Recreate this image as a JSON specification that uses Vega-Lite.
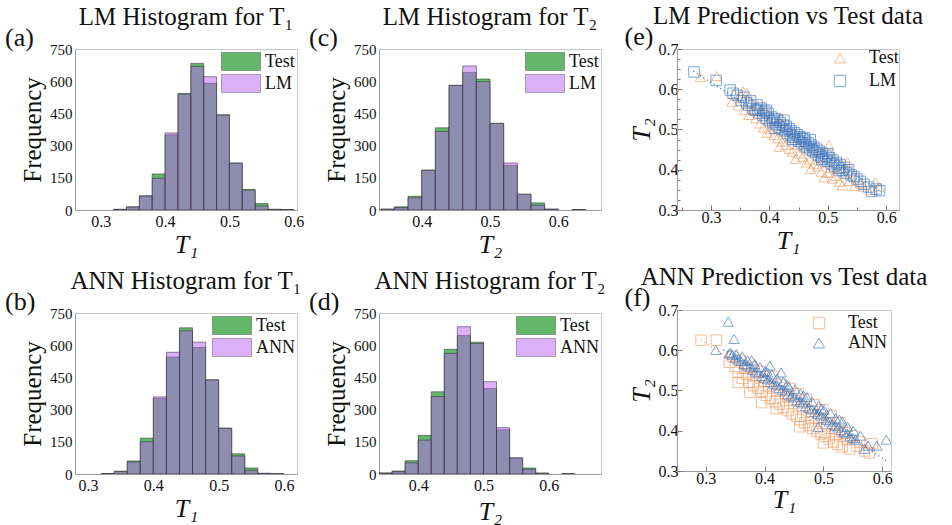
{
"$schema":"https://vega.github.io/schema/vega-lite/v6.json",
"padding":{"left":5,"top":3,"right":0,"bottom":0},
"config":{
  "font":"Liberation Serif",
  "view":{"stroke":"#c8c8c8","strokeWidth":1},
  "axis":{"labelColor":"#111","titleColor":"#111","grid":false,"domainColor":"#999","labelFont":"Liberation Serif","titleFont":"Liberation Serif","titleFontWeight":"normal","labelOverlap":false},
  "axisX":{"labelFont":"Liberation Serif","titleFont":"Liberation Serif"},
  "axisY":{"labelFont":"Liberation Serif","titleFont":"Liberation Serif"},
  "title":{"color":"#111","fontWeight":"normal","font":"Liberation Serif"},
  "legend":{"labelFont":"Liberation Serif","labelColor":"#111"}
},
"resolve":{"scale":{"color":"independent","shape":"independent","x":"independent","y":"independent"},"legend":{"color":"independent","shape":"independent"}},
"datasets":{
"hist":[
{"p":"a","s":"Test","b0":0.32,"b1":0.34,"n":3},{"p":"a","s":"Test","b0":0.34,"b1":0.36,"n":15},{"p":"a","s":"Test","b0":0.36,"b1":0.38,"n":66},{"p":"a","s":"Test","b0":0.38,"b1":0.40,"n":168},{"p":"a","s":"Test","b0":0.40,"b1":0.42,"n":350},{"p":"a","s":"Test","b0":0.42,"b1":0.44,"n":543},{"p":"a","s":"Test","b0":0.44,"b1":0.46,"n":683},{"p":"a","s":"Test","b0":0.46,"b1":0.48,"n":590},{"p":"a","s":"Test","b0":0.48,"b1":0.50,"n":444},{"p":"a","s":"Test","b0":0.50,"b1":0.52,"n":219},{"p":"a","s":"Test","b0":0.52,"b1":0.54,"n":96},{"p":"a","s":"Test","b0":0.54,"b1":0.56,"n":30},{"p":"a","s":"Test","b0":0.56,"b1":0.58,"n":3},{"p":"a","s":"Test","b0":0.58,"b1":0.60,"n":2},
{"p":"a","s":"LM","b0":0.32,"b1":0.34,"n":3},{"p":"a","s":"LM","b0":0.34,"b1":0.36,"n":14},{"p":"a","s":"LM","b0":0.36,"b1":0.38,"n":65},{"p":"a","s":"LM","b0":0.38,"b1":0.40,"n":148},{"p":"a","s":"LM","b0":0.40,"b1":0.42,"n":359},{"p":"a","s":"LM","b0":0.42,"b1":0.44,"n":539},{"p":"a","s":"LM","b0":0.44,"b1":0.46,"n":669},{"p":"a","s":"LM","b0":0.46,"b1":0.48,"n":621},{"p":"a","s":"LM","b0":0.48,"b1":0.50,"n":442},{"p":"a","s":"LM","b0":0.50,"b1":0.52,"n":218},{"p":"a","s":"LM","b0":0.52,"b1":0.54,"n":92},{"p":"a","s":"LM","b0":0.54,"b1":0.56,"n":19},{"p":"a","s":"LM","b0":0.56,"b1":0.58,"n":3},{"p":"a","s":"LM","b0":0.58,"b1":0.60,"n":2},
{"p":"c","s":"Test","b0":0.34,"b1":0.36,"n":4},{"p":"c","s":"Test","b0":0.36,"b1":0.38,"n":15},{"p":"c","s":"Test","b0":0.38,"b1":0.40,"n":64},{"p":"c","s":"Test","b0":0.40,"b1":0.42,"n":186},{"p":"c","s":"Test","b0":0.42,"b1":0.44,"n":383},{"p":"c","s":"Test","b0":0.44,"b1":0.46,"n":581},{"p":"c","s":"Test","b0":0.46,"b1":0.48,"n":641},{"p":"c","s":"Test","b0":0.48,"b1":0.50,"n":610},{"p":"c","s":"Test","b0":0.50,"b1":0.52,"n":404},{"p":"c","s":"Test","b0":0.52,"b1":0.54,"n":208},{"p":"c","s":"Test","b0":0.54,"b1":0.56,"n":73},{"p":"c","s":"Test","b0":0.56,"b1":0.58,"n":33},{"p":"c","s":"Test","b0":0.58,"b1":0.60,"n":4},{"p":"c","s":"Test","b0":0.62,"b1":0.64,"n":2},
{"p":"c","s":"LM","b0":0.34,"b1":0.36,"n":4},{"p":"c","s":"LM","b0":0.36,"b1":0.38,"n":11},{"p":"c","s":"LM","b0":0.38,"b1":0.40,"n":57},{"p":"c","s":"LM","b0":0.40,"b1":0.42,"n":185},{"p":"c","s":"LM","b0":0.42,"b1":0.44,"n":366},{"p":"c","s":"LM","b0":0.44,"b1":0.46,"n":580},{"p":"c","s":"LM","b0":0.46,"b1":0.48,"n":671},{"p":"c","s":"LM","b0":0.48,"b1":0.50,"n":598},{"p":"c","s":"LM","b0":0.50,"b1":0.52,"n":403},{"p":"c","s":"LM","b0":0.52,"b1":0.54,"n":219},{"p":"c","s":"LM","b0":0.54,"b1":0.56,"n":74},{"p":"c","s":"LM","b0":0.56,"b1":0.58,"n":22},{"p":"c","s":"LM","b0":0.58,"b1":0.60,"n":4},{"p":"c","s":"LM","b0":0.62,"b1":0.64,"n":2},
{"p":"b","s":"Test","b0":0.32,"b1":0.34,"n":2},{"p":"b","s":"Test","b0":0.34,"b1":0.36,"n":13},{"p":"b","s":"Test","b0":0.36,"b1":0.38,"n":61},{"p":"b","s":"Test","b0":0.38,"b1":0.40,"n":167},{"p":"b","s":"Test","b0":0.40,"b1":0.42,"n":352},{"p":"b","s":"Test","b0":0.42,"b1":0.44,"n":545},{"p":"b","s":"Test","b0":0.44,"b1":0.46,"n":681},{"p":"b","s":"Test","b0":0.46,"b1":0.48,"n":589},{"p":"b","s":"Test","b0":0.48,"b1":0.50,"n":439},{"p":"b","s":"Test","b0":0.50,"b1":0.52,"n":214},{"p":"b","s":"Test","b0":0.52,"b1":0.54,"n":94},{"p":"b","s":"Test","b0":0.54,"b1":0.56,"n":28},{"p":"b","s":"Test","b0":0.56,"b1":0.58,"n":3},{"p":"b","s":"Test","b0":0.58,"b1":0.60,"n":1},
{"p":"b","s":"ANN","b0":0.32,"b1":0.34,"n":2},{"p":"b","s":"ANN","b0":0.34,"b1":0.36,"n":12},{"p":"b","s":"ANN","b0":0.36,"b1":0.38,"n":56},{"p":"b","s":"ANN","b0":0.38,"b1":0.40,"n":150},{"p":"b","s":"ANN","b0":0.40,"b1":0.42,"n":359},{"p":"b","s":"ANN","b0":0.42,"b1":0.44,"n":567},{"p":"b","s":"ANN","b0":0.44,"b1":0.46,"n":667},{"p":"b","s":"ANN","b0":0.46,"b1":0.48,"n":614},{"p":"b","s":"ANN","b0":0.48,"b1":0.50,"n":438},{"p":"b","s":"ANN","b0":0.50,"b1":0.52,"n":213},{"p":"b","s":"ANN","b0":0.52,"b1":0.54,"n":84},{"p":"b","s":"ANN","b0":0.54,"b1":0.56,"n":17},{"p":"b","s":"ANN","b0":0.56,"b1":0.58,"n":3},{"p":"b","s":"ANN","b0":0.58,"b1":0.60,"n":1},
{"p":"d","s":"Test","b0":0.34,"b1":0.36,"n":5},{"p":"d","s":"Test","b0":0.36,"b1":0.38,"n":14},{"p":"d","s":"Test","b0":0.38,"b1":0.40,"n":62},{"p":"d","s":"Test","b0":0.40,"b1":0.42,"n":180},{"p":"d","s":"Test","b0":0.42,"b1":0.44,"n":383},{"p":"d","s":"Test","b0":0.44,"b1":0.46,"n":581},{"p":"d","s":"Test","b0":0.46,"b1":0.48,"n":645},{"p":"d","s":"Test","b0":0.48,"b1":0.50,"n":614},{"p":"d","s":"Test","b0":0.50,"b1":0.52,"n":398},{"p":"d","s":"Test","b0":0.52,"b1":0.54,"n":206},{"p":"d","s":"Test","b0":0.54,"b1":0.56,"n":75},{"p":"d","s":"Test","b0":0.56,"b1":0.58,"n":28},{"p":"d","s":"Test","b0":0.58,"b1":0.60,"n":4},{"p":"d","s":"Test","b0":0.62,"b1":0.64,"n":1},
{"p":"d","s":"ANN","b0":0.34,"b1":0.36,"n":4},{"p":"d","s":"ANN","b0":0.36,"b1":0.38,"n":11},{"p":"d","s":"ANN","b0":0.38,"b1":0.40,"n":52},{"p":"d","s":"ANN","b0":0.40,"b1":0.42,"n":158},{"p":"d","s":"ANN","b0":0.42,"b1":0.44,"n":361},{"p":"d","s":"ANN","b0":0.44,"b1":0.46,"n":562},{"p":"d","s":"ANN","b0":0.46,"b1":0.48,"n":686},{"p":"d","s":"ANN","b0":0.48,"b1":0.50,"n":608},{"p":"d","s":"ANN","b0":0.50,"b1":0.52,"n":430},{"p":"d","s":"ANN","b0":0.52,"b1":0.54,"n":216},{"p":"d","s":"ANN","b0":0.54,"b1":0.56,"n":75},{"p":"d","s":"ANN","b0":0.56,"b1":0.58,"n":22},{"p":"d","s":"ANN","b0":0.58,"b1":0.60,"n":4},{"p":"d","s":"ANN","b0":0.62,"b1":0.64,"n":1}
],
"scatE":[
{"s":"Test","t1":0.282,"t2":0.630},{"s":"Test","t1":0.310,"t2":0.633},{"s":"Test","t1":0.336,"t2":0.569},{"s":"Test","t1":0.340,"t2":0.588},{"s":"Test","t1":0.347,"t2":0.560},{"s":"Test","t1":0.352,"t2":0.582},{"s":"Test","t1":0.358,"t2":0.548},{"s":"Test","t1":0.362,"t2":0.590},{"s":"Test","t1":0.365,"t2":0.536},{"s":"Test","t1":0.369,"t2":0.566},{"s":"Test","t1":0.373,"t2":0.548},{"s":"Test","t1":0.377,"t2":0.528},{"s":"Test","t1":0.380,"t2":0.560},{"s":"Test","t1":0.384,"t2":0.515},{"s":"Test","t1":0.387,"t2":0.540},{"s":"Test","t1":0.390,"t2":0.505},{"s":"Test","t1":0.393,"t2":0.548},{"s":"Test","t1":0.396,"t2":0.492},{"s":"Test","t1":0.399,"t2":0.522},{"s":"Test","t1":0.402,"t2":0.500},{"s":"Test","t1":0.405,"t2":0.532},{"s":"Test","t1":0.408,"t2":0.486},{"s":"Test","t1":0.411,"t2":0.510},{"s":"Test","t1":0.414,"t2":0.478},{"s":"Test","t1":0.417,"t2":0.457},{"s":"Test","t1":0.419,"t2":0.520},{"s":"Test","t1":0.422,"t2":0.470},{"s":"Test","t1":0.425,"t2":0.495},{"s":"Test","t1":0.428,"t2":0.462},{"s":"Test","t1":0.431,"t2":0.505},{"s":"Test","t1":0.434,"t2":0.452},{"s":"Test","t1":0.437,"t2":0.480},{"s":"Test","t1":0.440,"t2":0.445},{"s":"Test","t1":0.443,"t2":0.492},{"s":"Test","t1":0.445,"t2":0.427},{"s":"Test","t1":0.448,"t2":0.462},{"s":"Test","t1":0.451,"t2":0.440},{"s":"Test","t1":0.454,"t2":0.480},{"s":"Test","t1":0.457,"t2":0.432},{"s":"Test","t1":0.460,"t2":0.455},{"s":"Test","t1":0.463,"t2":0.418},{"s":"Test","t1":0.466,"t2":0.470},{"s":"Test","t1":0.469,"t2":0.425},{"s":"Test","t1":0.471,"t2":0.402},{"s":"Test","t1":0.474,"t2":0.447},{"s":"Test","t1":0.477,"t2":0.415},{"s":"Test","t1":0.480,"t2":0.458},{"s":"Test","t1":0.483,"t2":0.408},{"s":"Test","t1":0.486,"t2":0.432},{"s":"Test","t1":0.489,"t2":0.395},{"s":"Test","t1":0.492,"t2":0.445},{"s":"Test","t1":0.494,"t2":0.381},{"s":"Test","t1":0.497,"t2":0.418},{"s":"Test","t1":0.500,"t2":0.392},{"s":"Test","t1":0.502,"t2":0.461},{"s":"Test","t1":0.505,"t2":0.405},{"s":"Test","t1":0.508,"t2":0.378},{"s":"Test","t1":0.511,"t2":0.430},{"s":"Test","t1":0.514,"t2":0.385},{"s":"Test","t1":0.517,"t2":0.402},{"s":"Test","t1":0.520,"t2":0.370},{"s":"Test","t1":0.523,"t2":0.415},{"s":"Test","t1":0.525,"t2":0.361},{"s":"Test","t1":0.529,"t2":0.390},{"s":"Test","t1":0.534,"t2":0.419},{"s":"Test","t1":0.537,"t2":0.372},{"s":"Test","t1":0.541,"t2":0.395},{"s":"Test","t1":0.546,"t2":0.360},{"s":"Test","t1":0.550,"t2":0.382},{"s":"Test","t1":0.556,"t2":0.366},{"s":"Test","t1":0.562,"t2":0.358},{"s":"Test","t1":0.575,"t2":0.350},{"s":"Test","t1":0.581,"t2":0.369},{"s":"Test","t1":0.588,"t2":0.358},{"s":"Test","t1":0.355,"t2":0.595},{"s":"Test","t1":0.390,"t2":0.558},{"s":"Test","t1":0.420,"t2":0.530},
{"s":"LM","t1":0.271,"t2":0.643},{"s":"LM","t1":0.309,"t2":0.622},{"s":"LM","t1":0.333,"t2":0.598},{"s":"LM","t1":0.338,"t2":0.590},{"s":"LM","t1":0.345,"t2":0.585},{"s":"LM","t1":0.352,"t2":0.572},{"s":"LM","t1":0.356,"t2":0.580},{"s":"LM","t1":0.361,"t2":0.566},{"s":"LM","t1":0.365,"t2":0.560},{"s":"LM","t1":0.368,"t2":0.571},{"s":"LM","t1":0.372,"t2":0.552},{"s":"LM","t1":0.376,"t2":0.548},{"s":"LM","t1":0.379,"t2":0.561},{"s":"LM","t1":0.383,"t2":0.540},{"s":"LM","t1":0.386,"t2":0.553},{"s":"LM","t1":0.389,"t2":0.535},{"s":"LM","t1":0.392,"t2":0.545},{"s":"LM","t1":0.395,"t2":0.528},{"s":"LM","t1":0.398,"t2":0.540},{"s":"LM","t1":0.401,"t2":0.522},{"s":"LM","t1":0.404,"t2":0.531},{"s":"LM","t1":0.406,"t2":0.517},{"s":"LM","t1":0.409,"t2":0.527},{"s":"LM","t1":0.412,"t2":0.512},{"s":"LM","t1":0.414,"t2":0.523},{"s":"LM","t1":0.417,"t2":0.506},{"s":"LM","t1":0.419,"t2":0.518},{"s":"LM","t1":0.422,"t2":0.501},{"s":"LM","t1":0.424,"t2":0.511},{"s":"LM","t1":0.427,"t2":0.497},{"s":"LM","t1":0.429,"t2":0.508},{"s":"LM","t1":0.431,"t2":0.490},{"s":"LM","t1":0.434,"t2":0.502},{"s":"LM","t1":0.436,"t2":0.486},{"s":"LM","t1":0.438,"t2":0.497},{"s":"LM","t1":0.441,"t2":0.481},{"s":"LM","t1":0.443,"t2":0.492},{"s":"LM","t1":0.445,"t2":0.476},{"s":"LM","t1":0.448,"t2":0.487},{"s":"LM","t1":0.450,"t2":0.471},{"s":"LM","t1":0.452,"t2":0.482},{"s":"LM","t1":0.455,"t2":0.467},{"s":"LM","t1":0.457,"t2":0.477},{"s":"LM","t1":0.460,"t2":0.462},{"s":"LM","t1":0.462,"t2":0.471},{"s":"LM","t1":0.464,"t2":0.457},{"s":"LM","t1":0.467,"t2":0.466},{"s":"LM","t1":0.469,"t2":0.452},{"s":"LM","t1":0.472,"t2":0.461},{"s":"LM","t1":0.474,"t2":0.447},{"s":"LM","t1":0.476,"t2":0.456},{"s":"LM","t1":0.479,"t2":0.443},{"s":"LM","t1":0.481,"t2":0.451},{"s":"LM","t1":0.484,"t2":0.437},{"s":"LM","t1":0.486,"t2":0.446},{"s":"LM","t1":0.489,"t2":0.432},{"s":"LM","t1":0.491,"t2":0.441},{"s":"LM","t1":0.494,"t2":0.427},{"s":"LM","t1":0.497,"t2":0.434},{"s":"LM","t1":0.500,"t2":0.421},{"s":"LM","t1":0.503,"t2":0.430},{"s":"LM","t1":0.506,"t2":0.415},{"s":"LM","t1":0.509,"t2":0.424},{"s":"LM","t1":0.512,"t2":0.410},{"s":"LM","t1":0.515,"t2":0.418},{"s":"LM","t1":0.518,"t2":0.404},{"s":"LM","t1":0.521,"t2":0.413},{"s":"LM","t1":0.525,"t2":0.398},{"s":"LM","t1":0.528,"t2":0.406},{"s":"LM","t1":0.532,"t2":0.392},{"s":"LM","t1":0.536,"t2":0.400},{"s":"LM","t1":0.540,"t2":0.387},{"s":"LM","t1":0.545,"t2":0.383},{"s":"LM","t1":0.550,"t2":0.377},{"s":"LM","t1":0.556,"t2":0.371},{"s":"LM","t1":0.562,"t2":0.364},{"s":"LM","t1":0.570,"t2":0.357},{"s":"LM","t1":0.575,"t2":0.346},{"s":"LM","t1":0.583,"t2":0.352},{"s":"LM","t1":0.589,"t2":0.348},{"s":"LM","t1":0.395,"t2":0.548},{"s":"LM","t1":0.425,"t2":0.523},{"s":"LM","t1":0.440,"t2":0.475},{"s":"LM","t1":0.470,"t2":0.475},{"s":"LM","t1":0.500,"t2":0.440},{"s":"LM","t1":0.520,"t2":0.398},{"s":"LM","t1":0.460,"t2":0.480},{"s":"LM","t1":0.410,"t2":0.503},{"s":"LM","t1":0.380,"t2":0.548},{"s":"LM","t1":0.490,"t2":0.425}
],
"scatF":[
{"s":"Test","t1":0.292,"t2":0.625},{"s":"Test","t1":0.318,"t2":0.625},{"s":"Test","t1":0.340,"t2":0.570},{"s":"Test","t1":0.345,"t2":0.585},{"s":"Test","t1":0.350,"t2":0.560},{"s":"Test","t1":0.355,"t2":0.545},{"s":"Test","t1":0.358,"t2":0.575},{"s":"Test","t1":0.362,"t2":0.530},{"s":"Test","t1":0.366,"t2":0.555},{"s":"Test","t1":0.370,"t2":0.540},{"s":"Test","t1":0.374,"t2":0.520},{"s":"Test","t1":0.378,"t2":0.558},{"s":"Test","t1":0.381,"t2":0.512},{"s":"Test","t1":0.385,"t2":0.535},{"s":"Test","t1":0.389,"t2":0.505},{"s":"Test","t1":0.392,"t2":0.548},{"s":"Test","t1":0.396,"t2":0.497},{"s":"Test","t1":0.400,"t2":0.522},{"s":"Test","t1":0.403,"t2":0.488},{"s":"Test","t1":0.407,"t2":0.510},{"s":"Test","t1":0.410,"t2":0.480},{"s":"Test","t1":0.414,"t2":0.535},{"s":"Test","t1":0.418,"t2":0.472},{"s":"Test","t1":0.421,"t2":0.500},{"s":"Test","t1":0.425,"t2":0.466},{"s":"Test","t1":0.428,"t2":0.515},{"s":"Test","t1":0.432,"t2":0.458},{"s":"Test","t1":0.436,"t2":0.490},{"s":"Test","t1":0.440,"t2":0.450},{"s":"Test","t1":0.443,"t2":0.505},{"s":"Test","t1":0.447,"t2":0.442},{"s":"Test","t1":0.450,"t2":0.475},{"s":"Test","t1":0.454,"t2":0.436},{"s":"Test","t1":0.457,"t2":0.492},{"s":"Test","t1":0.461,"t2":0.428},{"s":"Test","t1":0.464,"t2":0.460},{"s":"Test","t1":0.468,"t2":0.420},{"s":"Test","t1":0.471,"t2":0.478},{"s":"Test","t1":0.475,"t2":0.413},{"s":"Test","t1":0.478,"t2":0.448},{"s":"Test","t1":0.482,"t2":0.406},{"s":"Test","t1":0.485,"t2":0.465},{"s":"Test","t1":0.489,"t2":0.398},{"s":"Test","t1":0.492,"t2":0.432},{"s":"Test","t1":0.496,"t2":0.392},{"s":"Test","t1":0.499,"t2":0.452},{"s":"Test","t1":0.503,"t2":0.386},{"s":"Test","t1":0.506,"t2":0.418},{"s":"Test","t1":0.510,"t2":0.380},{"s":"Test","t1":0.513,"t2":0.438},{"s":"Test","t1":0.517,"t2":0.372},{"s":"Test","t1":0.520,"t2":0.405},{"s":"Test","t1":0.524,"t2":0.366},{"s":"Test","t1":0.528,"t2":0.420},{"s":"Test","t1":0.532,"t2":0.360},{"s":"Test","t1":0.536,"t2":0.395},{"s":"Test","t1":0.540,"t2":0.378},{"s":"Test","t1":0.545,"t2":0.355},{"s":"Test","t1":0.550,"t2":0.388},{"s":"Test","t1":0.556,"t2":0.362},{"s":"Test","t1":0.562,"t2":0.372},{"s":"Test","t1":0.570,"t2":0.350},{"s":"Test","t1":0.578,"t2":0.345},{"s":"Test","t1":0.583,"t2":0.368},{"s":"Test","t1":0.395,"t2":0.470},{"s":"Test","t1":0.420,"t2":0.455},{"s":"Test","t1":0.460,"t2":0.410},{"s":"Test","t1":0.500,"t2":0.370},{"s":"Test","t1":0.375,"t2":0.495},{"s":"Test","t1":0.355,"t2":0.520},{"s":"Test","t1":0.440,"t2":0.485},{"s":"Test","t1":0.480,"t2":0.430},{"s":"Test","t1":0.520,"t2":0.390},
{"s":"ANN","t1":0.340,"t2":0.592},{"s":"ANN","t1":0.345,"t2":0.588},{"s":"ANN","t1":0.350,"t2":0.581},{"s":"ANN","t1":0.355,"t2":0.577},{"s":"ANN","t1":0.360,"t2":0.573},{"s":"ANN","t1":0.365,"t2":0.566},{"s":"ANN","t1":0.370,"t2":0.562},{"s":"ANN","t1":0.375,"t2":0.558},{"s":"ANN","t1":0.380,"t2":0.551},{"s":"ANN","t1":0.385,"t2":0.547},{"s":"ANN","t1":0.390,"t2":0.543},{"s":"ANN","t1":0.395,"t2":0.536},{"s":"ANN","t1":0.400,"t2":0.532},{"s":"ANN","t1":0.405,"t2":0.528},{"s":"ANN","t1":0.410,"t2":0.521},{"s":"ANN","t1":0.415,"t2":0.517},{"s":"ANN","t1":0.420,"t2":0.513},{"s":"ANN","t1":0.425,"t2":0.506},{"s":"ANN","t1":0.430,"t2":0.502},{"s":"ANN","t1":0.435,"t2":0.498},{"s":"ANN","t1":0.440,"t2":0.491},{"s":"ANN","t1":0.445,"t2":0.487},{"s":"ANN","t1":0.450,"t2":0.483},{"s":"ANN","t1":0.455,"t2":0.476},{"s":"ANN","t1":0.460,"t2":0.472},{"s":"ANN","t1":0.465,"t2":0.468},{"s":"ANN","t1":0.470,"t2":0.461},{"s":"ANN","t1":0.475,"t2":0.457},{"s":"ANN","t1":0.480,"t2":0.453},{"s":"ANN","t1":0.485,"t2":0.446},{"s":"ANN","t1":0.490,"t2":0.442},{"s":"ANN","t1":0.495,"t2":0.438},{"s":"ANN","t1":0.500,"t2":0.431},{"s":"ANN","t1":0.505,"t2":0.427},{"s":"ANN","t1":0.510,"t2":0.423},{"s":"ANN","t1":0.515,"t2":0.416},{"s":"ANN","t1":0.520,"t2":0.412},{"s":"ANN","t1":0.525,"t2":0.408},{"s":"ANN","t1":0.530,"t2":0.401},{"s":"ANN","t1":0.535,"t2":0.397},{"s":"ANN","t1":0.540,"t2":0.393},{"s":"ANN","t1":0.545,"t2":0.386},{"s":"ANN","t1":0.550,"t2":0.382},{"s":"ANN","t1":0.555,"t2":0.378},
{"s":"ANN","t1":0.352,"t2":0.590},{"s":"ANN","t1":0.362,"t2":0.585},{"s":"ANN","t1":0.371,"t2":0.575},{"s":"ANN","t1":0.383,"t2":0.566},{"s":"ANN","t1":0.392,"t2":0.558},{"s":"ANN","t1":0.401,"t2":0.548},{"s":"ANN","t1":0.412,"t2":0.540},{"s":"ANN","t1":0.421,"t2":0.530},{"s":"ANN","t1":0.432,"t2":0.522},{"s":"ANN","t1":0.441,"t2":0.510},{"s":"ANN","t1":0.452,"t2":0.503},{"s":"ANN","t1":0.461,"t2":0.492},{"s":"ANN","t1":0.472,"t2":0.484},{"s":"ANN","t1":0.481,"t2":0.472},{"s":"ANN","t1":0.492,"t2":0.463},{"s":"ANN","t1":0.501,"t2":0.452},{"s":"ANN","t1":0.512,"t2":0.444},{"s":"ANN","t1":0.521,"t2":0.431},{"s":"ANN","t1":0.532,"t2":0.423},{"s":"ANN","t1":0.541,"t2":0.410},{"s":"ANN","t1":0.551,"t2":0.400},{"s":"ANN","t1":0.378,"t2":0.575},{"s":"ANN","t1":0.405,"t2":0.545},{"s":"ANN","t1":0.438,"t2":0.515},{"s":"ANN","t1":0.466,"t2":0.488},{"s":"ANN","t1":0.497,"t2":0.455},{"s":"ANN","t1":0.527,"t2":0.428},
{"s":"ANN","t1":0.338,"t2":0.671},{"s":"ANN","t1":0.348,"t2":0.628},{"s":"ANN","t1":0.317,"t2":0.601},{"s":"ANN","t1":0.342,"t2":0.594},{"s":"ANN","t1":0.409,"t2":0.562},{"s":"ANN","t1":0.428,"t2":0.545},{"s":"ANN","t1":0.491,"t2":0.409},{"s":"ANN","t1":0.563,"t2":0.388},{"s":"ANN","t1":0.576,"t2":0.363},{"s":"ANN","t1":0.591,"t2":0.363},{"s":"ANN","t1":0.607,"t2":0.378},{"s":"ANN","t1":0.570,"t2":0.355}
],
"fits":[
{"p":"e","s":"LM","t1":0.270,"t2":0.645},{"p":"e","s":"LM","t1":0.590,"t2":0.347},
{"p":"f","s":"Test","t1":0.292,"t2":0.625},{"p":"f","s":"Test","t1":0.585,"t2":0.345},
{"p":"f","s":"ANN","t1":0.330,"t2":0.602},{"p":"f","s":"ANN","t1":0.607,"t2":0.325}
]
},
"spacing":17,
"hconcat":[
{"spacing":4,"resolve":{"scale":{"color":"independent","x":"independent","y":"independent"},"legend":{"color":"independent"}},"hconcat":[
  {"spacing":10,"resolve":{"scale":{"color":"independent","x":"independent","y":"independent"},"legend":{"color":"independent"}},"vconcat":[
    {"title":{"text":"(a)","anchor":"start","frame":"bounds","fontSize":26,"dx":-15,"dy":46,"offset":0},
     "resolve":{"scale":{"color":"independent"},"legend":{"color":"independent"}},
     "vconcat":[{
      "title":{"text":"LM Histogram for T₁","frame":"group","anchor":"middle","fontSize":25,"offset":12},
      "width":222,"height":161,
      "data":{"name":"hist"},
      "transform":[{"filter":"datum.p=='a'"}],
      "mark":{"type":"bar","stroke":"#333","strokeOpacity":0.55,"strokeWidth":1,"clip":true},
      "encoding":{
        "x":{"field":"b0","type":"quantitative","scale":{"domain":[0.26,0.605],"nice":false,"zero":false},"axis":{"values":[0.3,0.4,0.5,0.6],"format":".1f","ticks":false,"labelFont":"Liberation Serif","labelFontSize":16,"labelPadding":3,"title":"T₁","titleFont":"Liberation Serif","titleFontSize":26,"titleFontStyle":"italic","titlePadding":2}},
        "x2":{"field":"b1"},
        "y":{"field":"n","type":"quantitative","stack":null,"scale":{"domain":[0,750],"nice":false},"axis":{"values":[0,150,300,450,600,750],"ticks":false,"labelFont":"Liberation Serif","labelFontSize":15,"labelPadding":3,"title":"Frequency","titleFontSize":25,"titlePadding":4}},
        "y2":{"datum":0},
        "color":{"field":"s","type":"nominal","scale":{"domain":["Test","LM"],"range":["#63b66a","rgba(186,100,245,0.5)"]},
          "legend":{"orient":"top-right","offset":2,"title":null,"padding":0,"symbolType":"M-1,-0.9H2.9V0.9H-1Z","symbolSize":400,"symbolStrokeColor":"rgba(60,60,60,0.4)","symbolStrokeWidth":1,"labelFontSize":18,"labelOffset":23,"rowPadding":-4}}
      }
     }]},
    {"title":{"text":"(b)","anchor":"start","frame":"bounds","fontSize":26,"dx":-15,"dy":46,"offset":0},
     "resolve":{"scale":{"color":"independent"},"legend":{"color":"independent"}},
     "vconcat":[{
      "title":{"text":"ANN Histogram for T₁","frame":"group","anchor":"middle","fontSize":25,"offset":12},
      "width":222,"height":161,
      "data":{"name":"hist"},
      "transform":[{"filter":"datum.p=='b'"}],
      "mark":{"type":"bar","stroke":"#333","strokeOpacity":0.55,"strokeWidth":1,"clip":true},
      "encoding":{
        "x":{"field":"b0","type":"quantitative","scale":{"domain":[0.28,0.62],"nice":false,"zero":false},"axis":{"values":[0.3,0.4,0.5,0.6],"format":".1f","ticks":false,"labelFont":"Liberation Serif","labelFontSize":16,"labelPadding":3,"title":"T₁","titleFont":"Liberation Serif","titleFontSize":26,"titleFontStyle":"italic","titlePadding":2}},
        "x2":{"field":"b1"},
        "y":{"field":"n","type":"quantitative","stack":null,"scale":{"domain":[0,750],"nice":false},"axis":{"values":[0,150,300,450,600,750],"ticks":false,"labelFont":"Liberation Serif","labelFontSize":15,"labelPadding":3,"title":"Frequency","titleFontSize":25,"titlePadding":4}},
        "y2":{"datum":0},
        "color":{"field":"s","type":"nominal","scale":{"domain":["Test","ANN"],"range":["#63b66a","rgba(186,100,245,0.5)"]},
          "legend":{"orient":"top-right","offset":2,"title":null,"padding":0,"symbolType":"M-1,-0.9H2.9V0.9H-1Z","symbolSize":400,"symbolStrokeColor":"rgba(60,60,60,0.4)","symbolStrokeWidth":1,"labelFontSize":18,"labelOffset":23,"rowPadding":-4}}
      }
     }]}
  ]},
  {"spacing":10,"resolve":{"scale":{"color":"independent","x":"independent","y":"independent"},"legend":{"color":"independent"}},"vconcat":[
    {"title":{"text":"(c)","anchor":"start","frame":"bounds","fontSize":26,"dx":-15,"dy":46,"offset":0},
     "resolve":{"scale":{"color":"independent"},"legend":{"color":"independent"}},
     "vconcat":[{
      "title":{"text":"LM Histogram for T₂","frame":"group","anchor":"middle","fontSize":25,"offset":12},
      "width":222,"height":161,
      "data":{"name":"hist"},
      "transform":[{"filter":"datum.p=='c'"}],
      "mark":{"type":"bar","stroke":"#333","strokeOpacity":0.55,"strokeWidth":1,"clip":true},
      "encoding":{
        "x":{"field":"b0","type":"quantitative","scale":{"domain":[0.3375,0.6625],"nice":false,"zero":false},"axis":{"values":[0.4,0.5,0.6],"format":".1f","ticks":false,"labelFont":"Liberation Serif","labelFontSize":16,"labelPadding":3,"title":"T₂","titleFont":"Liberation Serif","titleFontSize":26,"titleFontStyle":"italic","titlePadding":2}},
        "x2":{"field":"b1"},
        "y":{"field":"n","type":"quantitative","stack":null,"scale":{"domain":[0,750],"nice":false},"axis":{"values":[0,150,300,450,600,750],"ticks":false,"labelFont":"Liberation Serif","labelFontSize":15,"labelPadding":3,"title":"Frequency","titleFontSize":25,"titlePadding":4}},
        "y2":{"datum":0},
        "color":{"field":"s","type":"nominal","scale":{"domain":["Test","LM"],"range":["#63b66a","rgba(186,100,245,0.5)"]},
          "legend":{"orient":"top-right","offset":2,"title":null,"padding":0,"symbolType":"M-1,-0.9H2.9V0.9H-1Z","symbolSize":400,"symbolStrokeColor":"rgba(60,60,60,0.4)","symbolStrokeWidth":1,"labelFontSize":18,"labelOffset":23,"rowPadding":-4}}
      }
     }]},
    {"title":{"text":"(d)","anchor":"start","frame":"bounds","fontSize":26,"dx":-15,"dy":46,"offset":0},
     "resolve":{"scale":{"color":"independent"},"legend":{"color":"independent"}},
     "vconcat":[{
      "title":{"text":"ANN Histogram for T₂","frame":"group","anchor":"middle","fontSize":25,"offset":12},
      "width":222,"height":161,
      "data":{"name":"hist"},
      "transform":[{"filter":"datum.p=='d'"}],
      "mark":{"type":"bar","stroke":"#333","strokeOpacity":0.55,"strokeWidth":1,"clip":true},
      "encoding":{
        "x":{"field":"b0","type":"quantitative","scale":{"domain":[0.34,0.68],"nice":false,"zero":false},"axis":{"values":[0.4,0.5,0.6],"format":".1f","ticks":false,"labelFont":"Liberation Serif","labelFontSize":16,"labelPadding":3,"title":"T₂","titleFont":"Liberation Serif","titleFontSize":26,"titleFontStyle":"italic","titlePadding":5}},
        "x2":{"field":"b1"},
        "y":{"field":"n","type":"quantitative","stack":null,"scale":{"domain":[0,750],"nice":false},"axis":{"values":[0,150,300,450,600,750],"ticks":false,"labelFont":"Liberation Serif","labelFontSize":15,"labelPadding":3,"title":"Frequency","titleFontSize":25,"titlePadding":4}},
        "y2":{"datum":0},
        "color":{"field":"s","type":"nominal","scale":{"domain":["Test","ANN"],"range":["#63b66a","rgba(186,100,245,0.5)"]},
          "legend":{"orient":"top-right","offset":2,"title":null,"padding":0,"symbolType":"M-1,-0.9H2.9V0.9H-1Z","symbolSize":400,"symbolStrokeColor":"rgba(60,60,60,0.4)","symbolStrokeWidth":1,"labelFontSize":18,"labelOffset":23,"rowPadding":-4}}
      }
     }]}
  ]}
]},
{"spacing":10,"resolve":{"scale":{"color":"independent","shape":"independent","x":"independent","y":"independent"},"legend":{"color":"independent","shape":"independent"}},"vconcat":[
  {"title":{"text":"(e)","anchor":"start","frame":"bounds","fontSize":26,"dx":-3,"dy":46,"offset":0},
   "resolve":{"scale":{"color":"independent","shape":"independent"},"legend":{"color":"independent","shape":"independent"}},
   "vconcat":[{
    "title":{"text":"LM Prediction vs Test data","frame":"group","anchor":"middle","fontSize":25,"offset":12},
    "width":222,"height":161,
    "layer":[
      {"data":{"name":"scatE"},
       "mark":{"type":"point","filled":false,"size":110,"strokeWidth":1,"opacity":0.65,"clip":true},
       "encoding":{
        "x":{"field":"t1","type":"quantitative","scale":{"domain":[0.242,0.622],"nice":false,"zero":false},
          "axis":{"values":[0.25,0.3,0.35,0.4,0.45,0.5,0.55,0.6],"labelOverlap":false,"labelExpr":"abs(datum.value*10-round(datum.value*10))<0.01 ? format(datum.value,'.1f') : ''","tickColor":"#777","tickSize":{"condition":{"test":"abs(datum.value*10-round(datum.value*10))<0.01","value":-5},"value":-3},"labelFont":"Liberation Serif","labelFontSize":16,"labelPadding":4,"title":"T₁","titleFont":"Liberation Serif","titleFontSize":26,"titleFontStyle":"italic","titlePadding":0}},
        "y":{"field":"t2","type":"quantitative","scale":{"domain":[0.3,0.7],"nice":false,"zero":false},
          "axis":{"values":[0.3,0.325,0.35,0.375,0.4,0.425,0.45,0.475,0.5,0.525,0.55,0.575,0.6,0.625,0.65,0.675,0.7],"labelOverlap":false,"labelExpr":"abs(datum.value*10-round(datum.value*10))<0.01 ? format(datum.value,'.1f') : ''","tickColor":"#777","tickSize":{"condition":{"test":"abs(datum.value*10-round(datum.value*10))<0.01","value":-5},"value":-3},"labelFont":"Liberation Serif","labelFontSize":16,"labelPadding":4,"title":"T₂","titleFont":"Liberation Serif","titleFontSize":26,"titleFontStyle":"italic","titlePadding":4}},
        "color":{"field":"s","type":"nominal","scale":{"domain":["Test","LM"],"range":["#f39a5d","#3b78c3"]},"legend":{"orient":"top-right","offset":0,"title":null,"padding":0,"symbolSize":130,"symbolStrokeWidth":1,"labelFontSize":18,"labelOffset":20,"rowPadding":5}},
        "shape":{"field":"s","type":"nominal","scale":{"domain":["Test","LM"],"range":["triangle-up","square"]}}
       }},
      {"data":{"name":"fits"},"transform":[{"filter":"datum.p=='e'"}],
       "mark":{"type":"line","color":"#3b78c3","strokeDash":[1,3],"strokeWidth":1.5,"clip":true},
       "encoding":{
        "x":{"field":"t1","type":"quantitative",
          "axis":{"values":[0.25,0.3,0.35,0.4,0.45,0.5,0.55,0.6],"labelOverlap":false,"labelExpr":"abs(datum.value*10-round(datum.value*10))<0.01 ? format(datum.value,'.1f') : ''","tickColor":"#777","tickSize":{"condition":{"test":"abs(datum.value*10-round(datum.value*10))<0.01","value":-5},"value":-3},"labelFont":"Liberation Serif","labelFontSize":16,"labelPadding":4,"title":"T₁","titleFont":"Liberation Serif","titleFontSize":26,"titleFontStyle":"italic","titlePadding":0}},
        "y":{"field":"t2","type":"quantitative",
          "axis":{"values":[0.3,0.325,0.35,0.375,0.4,0.425,0.45,0.475,0.5,0.525,0.55,0.575,0.6,0.625,0.65,0.675,0.7],"labelOverlap":false,"labelExpr":"abs(datum.value*10-round(datum.value*10))<0.01 ? format(datum.value,'.1f') : ''","tickColor":"#777","tickSize":{"condition":{"test":"abs(datum.value*10-round(datum.value*10))<0.01","value":-5},"value":-3},"labelFont":"Liberation Serif","labelFontSize":16,"labelPadding":4,"title":"T₂","titleFont":"Liberation Serif","titleFontSize":26,"titleFontStyle":"italic","titlePadding":4}}}}
    ]
   }]},
  {"title":{"text":"(f)","anchor":"start","frame":"bounds","fontSize":26,"dx":-3,"dy":46,"offset":0},
   "resolve":{"scale":{"color":"independent","shape":"independent"},"legend":{"color":"independent","shape":"independent"}},
   "vconcat":[{
    "title":{"text":"ANN Prediction vs Test data","frame":"group","anchor":"middle","fontSize":25,"offset":12},
    "width":214,"height":161,
    "layer":[
      {"data":{"name":"scatF"},
       "mark":{"type":"point","filled":false,"size":110,"strokeWidth":1,"opacity":0.65,"clip":true},
       "encoding":{
        "x":{"field":"t1","type":"quantitative","scale":{"domain":[0.251,0.615],"nice":false,"zero":false},
          "axis":{"values":[0.3,0.35,0.4,0.45,0.5,0.55,0.6],"labelOverlap":false,"labelExpr":"abs(datum.value*10-round(datum.value*10))<0.01 ? format(datum.value,'.1f') : ''","tickColor":"#777","tickSize":{"condition":{"test":"abs(datum.value*10-round(datum.value*10))<0.01","value":-5},"value":-3},"labelFont":"Liberation Serif","labelFontSize":16,"labelPadding":4,"title":"T₁","titleFont":"Liberation Serif","titleFontSize":26,"titleFontStyle":"italic","titlePadding":0}},
        "y":{"field":"t2","type":"quantitative","scale":{"domain":[0.3,0.7],"nice":false,"zero":false},
          "axis":{"values":[0.3,0.325,0.35,0.375,0.4,0.425,0.45,0.475,0.5,0.525,0.55,0.575,0.6,0.625,0.65,0.675,0.7],"labelOverlap":false,"labelExpr":"abs(datum.value*10-round(datum.value*10))<0.01 ? format(datum.value,'.1f') : ''","tickColor":"#777","tickSize":{"condition":{"test":"abs(datum.value*10-round(datum.value*10))<0.01","value":-5},"value":-3},"labelFont":"Liberation Serif","labelFontSize":16,"labelPadding":4,"title":"T₂","titleFont":"Liberation Serif","titleFontSize":26,"titleFontStyle":"italic","titlePadding":4}},
        "color":{"field":"s","type":"nominal","scale":{"domain":["Test","ANN"],"range":["#f39a5d","#3b78c3"]},"legend":{"orient":"top-right","offset":4,"title":null,"padding":0,"symbolSize":130,"symbolStrokeWidth":1,"labelFontSize":18,"labelOffset":20,"rowPadding":2}},
        "shape":{"field":"s","type":"nominal","scale":{"domain":["Test","ANN"],"range":["square","triangle-up"]}}
       }},
      {"data":{"name":"fits"},"transform":[{"filter":"datum.p=='f' && datum.s=='Test'"}],
       "mark":{"type":"line","color":"#f39a5d","strokeDash":[1,3],"strokeWidth":1.5,"clip":true},
       "encoding":{"x":{"field":"t1","type":"quantitative"},"y":{"field":"t2","type":"quantitative"}}},
      {"data":{"name":"fits"},"transform":[{"filter":"datum.p=='f' && datum.s=='ANN'"}],
       "mark":{"type":"line","color":"#3b78c3","strokeDash":[1,3],"strokeWidth":1.5,"clip":true},
       "encoding":{"x":{"field":"t1","type":"quantitative"},"y":{"field":"t2","type":"quantitative"}}}
    ]
   }]}
]}
]
}
